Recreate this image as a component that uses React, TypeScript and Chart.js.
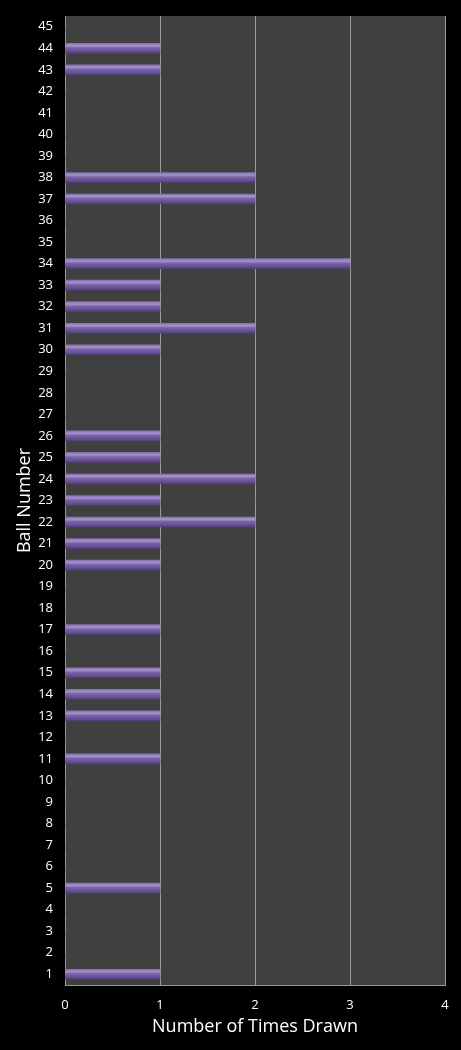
import React, { useRef, useEffect } from "react";
import Chart from "chart.js/auto";

// ball numbers 1..45 and how many times each was drawn
const balls = Array.from({ length: 45 }, (_, i) => String(i + 1));
const drawnBalls = [1, 5, 11, 13, 14, 15, 17, 20, 21, 22, 23, 24, 25, 26, 30, 31, 32, 33, 34, 37, 38, 43, 44];
const drawnCounts = [1, 1, 1, 1, 1, 1, 1, 1, 1, 2, 1, 2, 1, 1, 1, 2, 1, 1, 3, 2, 2, 1, 1];
const xTicks = [0, 1, 2, 3, 4];

const counts = balls.map((b) => {
  const idx = drawnBalls.indexOf(Number(b));
  return idx >= 0 ? drawnCounts[idx] : 0;
});

const plotBg = {
  id: "plotBg",
  beforeDraw(chart: any) {
    const { ctx, chartArea } = chart;
    ctx.save();
    ctx.fillStyle = "#404040";
    ctx.fillRect(chartArea.left, chartArea.top, chartArea.right - chartArea.left, chartArea.bottom - chartArea.top);
    ctx.restore();
  },
};

const App: React.FC = () => {
  const canvasRef = useRef<HTMLCanvasElement | null>(null);
  const chartRef = useRef<Chart | null>(null);

  useEffect(() => {
    document.body.style.margin = "0";
    document.body.style.background = "#000";
    if (!canvasRef.current) return;
    if (chartRef.current) chartRef.current.destroy();

    const font = "'Open Sans', 'DejaVu Sans', sans-serif";

    chartRef.current = new Chart(canvasRef.current, {
      type: "bar",
      data: {
        labels: balls,
        datasets: [
          {
            label: "Times Drawn",
            data: counts,
            barThickness: 10,
            borderWidth: 0,
            backgroundColor: (c: any) => {
              const { chart, dataIndex } = c;
              const ys = chart.scales && chart.scales.y;
              if (!chart.chartArea || !ys || dataIndex === undefined) return "#7a62a6";
              const y = ys.getPixelForValue(dataIndex);
              if (!isFinite(y)) return "#7a62a6";
              const g = chart.ctx.createLinearGradient(0, y - 5, 0, y + 5);
              g.addColorStop(0, "#8670b2");
              g.addColorStop(0.25, "#a593cc");
              g.addColorStop(0.45, "#7b64a8");
              g.addColorStop(0.8, "#654f94");
              g.addColorStop(1, "#4f3f74");
              return g;
            },
          },
        ],
      },
      options: {
        indexAxis: "y",
        animation: false,
        responsive: false,
        maintainAspectRatio: false,
        layout: { padding: { top: 16, right: 16, left: 0, bottom: 0 } },
        plugins: {
          legend: { display: false },
          tooltip: { enabled: false },
        },
        scales: {
          x: {
            min: 0,
            max: 4,
            afterBuildTicks: (s: any) => {
              s.ticks = xTicks.map((v) => ({ value: v }));
            },
            afterFit: (s: any) => {
              s.height = 65;
            },
            grid: { color: "#9a9a9a", lineWidth: 1, drawTicks: false },
            border: { color: "#9a9a9a" },
            ticks: { color: "#ffffff", font: { family: font, size: 13 }, padding: 12 },
            title: {
              display: true,
              text: "Number of Times Drawn",
              color: "#ffffff",
              font: { family: font, size: 18 },
              padding: { top: 0, bottom: 12 },
            },
          },
          y: {
            reverse: true,
            afterFit: (s: any) => {
              s.width = 65;
              s.paddingTop = 0;
              s.paddingBottom = 0;
            },
            grid: { display: false },
            border: { color: "#9a9a9a" },
            ticks: { color: "#ffffff", font: { family: font, size: 13 }, padding: 4, autoSkip: false },
            title: {
              display: true,
              text: "Ball Number",
              color: "#ffffff",
              font: { family: font, size: 18 },
              padding: { top: 14, bottom: 0 },
            },
          },
        },
      },
      plugins: [plotBg],
    });

    return () => {
      if (chartRef.current) {
        chartRef.current.destroy();
        chartRef.current = null;
      }
    };
  }, []);

  return (
    <div style={{ width: 461, height: 1050, background: "#000" }}>
      <canvas ref={canvasRef} width={461} height={1050} style={{ display: "block" }} />
    </div>
  );
};

export default App;
